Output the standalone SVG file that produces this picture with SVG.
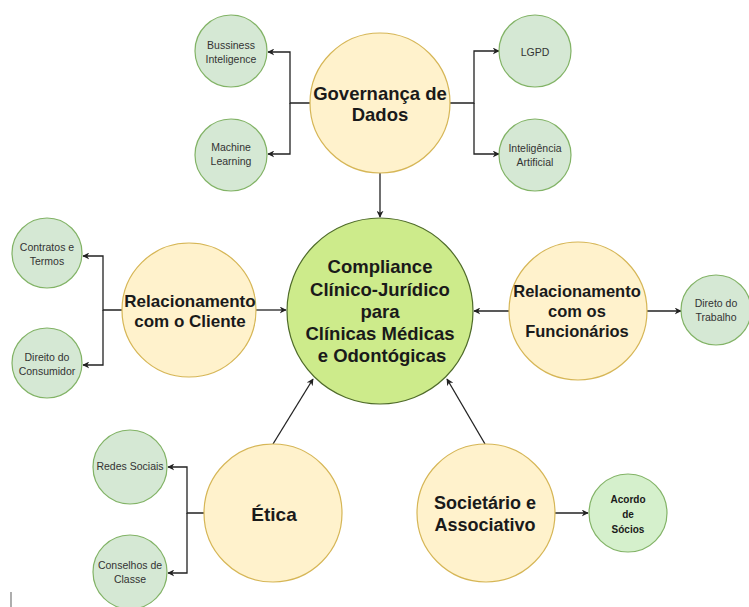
<svg xmlns="http://www.w3.org/2000/svg" width="749" height="607" viewBox="0 0 749 607">
  <style>
    .topic { fill: #fff2cc; stroke: #d6b656; stroke-width: 1.2; }
    .leaf { fill: #d5e8d4; stroke: #82b366; stroke-width: 1.2; }
    .leaf2 { fill: #d5f0cc; stroke: #82b366; stroke-width: 1.2; }
    .core { fill: #cdeb8b; stroke: #4f6b2a; stroke-width: 1.2; }
    text { font-family: "Liberation Sans", Arial, sans-serif; fill: #1a1a1a; text-anchor: middle; }
    .t-core { font-size: 18.5px; font-weight: bold; }
    .t-topic { font-size: 17px; font-weight: bold; }
    .t-leaf { font-size: 10.5px; fill: #333; }
    .t-leaf2 { font-size: 10px; font-weight: bold; font-family: "Liberation Sans Narrow", "Liberation Sans", Arial, sans-serif; }
    .conn { fill: none; stroke: #222; stroke-width: 1.3; }
  </style>
  <defs>
    <marker id="arrow" viewBox="0 0 10 10" refX="9" refY="5" markerWidth="7" markerHeight="7" orient="auto" markerUnits="userSpaceOnUse">
      <path d="M0,0 L10,5 L0,10 L3,5 Z" fill="#222"/>
    </marker>
  </defs>

  <rect width="749" height="607" fill="#ffffff"/>

  <!-- connectors -->
  <g id="connectors">
    <!-- Governança de Dados branches -->
    <path class="conn" d="M310,103 H290 V52 H268" marker-end="url(#arrow)"/>
    <path class="conn" d="M290,103 V154 H268" marker-end="url(#arrow)"/>
    <path class="conn" d="M450,103 H474 V51 H499" marker-end="url(#arrow)"/>
    <path class="conn" d="M474,103 V154 H499" marker-end="url(#arrow)"/>
    <path class="conn" d="M380,173 V217" marker-end="url(#arrow)"/>
    <!-- Relacionamento com o Cliente -->
    <path class="conn" d="M256,310 H286" marker-end="url(#arrow)"/>
    <path class="conn" d="M122,310 H103 V256 H83" marker-end="url(#arrow)"/>
    <path class="conn" d="M103,310 V365 H83" marker-end="url(#arrow)"/>
    <!-- Relacionamento com os Funcionários -->
    <path class="conn" d="M509,311 H474" marker-end="url(#arrow)"/>
    <path class="conn" d="M647,311 H681" marker-end="url(#arrow)"/>
    <!-- Ética -->
    <path class="conn" d="M273,444 L313,379" marker-end="url(#arrow)"/>
    <path class="conn" d="M204,513 H187 V467 H168" marker-end="url(#arrow)"/>
    <path class="conn" d="M187,513 V573 H168" marker-end="url(#arrow)"/>
    <!-- Societário e Associativo -->
    <path class="conn" d="M485,444 L447,379" marker-end="url(#arrow)"/>
    <path class="conn" d="M555,513 H588" marker-end="url(#arrow)"/>
  </g>

  <!-- central node -->
  <g id="compliance">
    <circle class="core" cx="380" cy="311" r="93"/>
    <text class="t-core" x="380" y="273">Compliance</text>
    <text class="t-core" x="380" y="296">Clínico-Jurídico</text>
    <text class="t-core" x="380" y="318">para</text>
    <text class="t-core" x="380" y="340">Clínicas Médicas</text>
    <text class="t-core" x="382" y="362">e Odontógicas</text>
  </g>

  <!-- topic nodes -->
  <g id="governanca">
    <circle class="topic" cx="380" cy="103" r="70"/>
    <text class="t-topic" x="380" y="100" style="font-size:18.5px">Governança de</text>
    <text class="t-topic" x="380" y="121" style="font-size:18.5px">Dados</text>
  </g>
  <g id="rel-cliente">
    <circle class="topic" cx="189" cy="310" r="67"/>
    <text class="t-topic" x="190" y="307">Relacionamento</text>
    <text class="t-topic" x="190" y="327">com o Cliente</text>
  </g>
  <g id="rel-funcionarios">
    <circle class="topic" cx="578" cy="311" r="69"/>
    <text class="t-topic" x="577" y="297" style="font-size:16.5px">Relacionamento</text>
    <text class="t-topic" x="577" y="317" style="font-size:16.5px">com os</text>
    <text class="t-topic" x="577" y="337" style="font-size:16.5px">Funcionários</text>
  </g>
  <g id="etica">
    <circle class="topic" cx="273" cy="513" r="69"/>
    <text class="t-topic" x="274" y="521" style="font-size:19px">Ética</text>
  </g>
  <g id="societario">
    <circle class="topic" cx="486" cy="513" r="69"/>
    <text class="t-topic" x="485" y="509" style="font-size:18px">Societário e</text>
    <text class="t-topic" x="485" y="531" style="font-size:18px">Associativo</text>
  </g>

  <!-- leaf nodes -->
  <g id="bi">
    <circle class="leaf" cx="231" cy="51" r="36"/>
    <text class="t-leaf" x="231" y="49">Bussiness</text>
    <text class="t-leaf" x="231" y="63">Inteligence</text>
  </g>
  <g id="ml">
    <circle class="leaf" cx="231" cy="155" r="36"/>
    <text class="t-leaf" x="231" y="151">Machine</text>
    <text class="t-leaf" x="231" y="165">Learning</text>
  </g>
  <g id="lgpd">
    <circle class="leaf" cx="535" cy="51" r="36"/>
    <text class="t-leaf" x="535" y="56">LGPD</text>
  </g>
  <g id="ia">
    <circle class="leaf" cx="535" cy="155" r="36"/>
    <text class="t-leaf" x="535" y="152">Inteligência</text>
    <text class="t-leaf" x="535" y="166">Artificial</text>
  </g>
  <g id="contratos">
    <circle class="leaf" cx="47" cy="253" r="35"/>
    <text class="t-leaf" x="47" y="251">Contratos e</text>
    <text class="t-leaf" x="47" y="265">Termos</text>
  </g>
  <g id="consumidor">
    <circle class="leaf" cx="47" cy="363" r="35"/>
    <text class="t-leaf" x="47" y="361">Direito do</text>
    <text class="t-leaf" x="47" y="375">Consumidor</text>
  </g>
  <g id="trabalho">
    <circle class="leaf" cx="716" cy="310" r="35"/>
    <text class="t-leaf" x="716" y="307">Direto do</text>
    <text class="t-leaf" x="716" y="321">Trabalho</text>
  </g>
  <g id="redes">
    <circle class="leaf" cx="130" cy="467" r="37"/>
    <text class="t-leaf" x="130" y="470">Redes Sociais</text>
  </g>
  <g id="conselhos">
    <circle class="leaf" cx="130" cy="572" r="37"/>
    <text class="t-leaf" x="130" y="569">Conselhos de</text>
    <text class="t-leaf" x="130" y="583">Classe</text>
  </g>
  <g id="acordo">
    <circle class="leaf2" cx="628" cy="513" r="39"/>
    <text class="t-leaf2" x="628" y="503">Acordo</text>
    <text class="t-leaf2" x="628" y="518">de</text>
    <text class="t-leaf2" x="628" y="533">Sócios</text>
  </g>

  <!-- caret mark -->
  <line x1="11" y1="592" x2="11" y2="607" stroke="#777" stroke-width="1.2"/>
</svg>
